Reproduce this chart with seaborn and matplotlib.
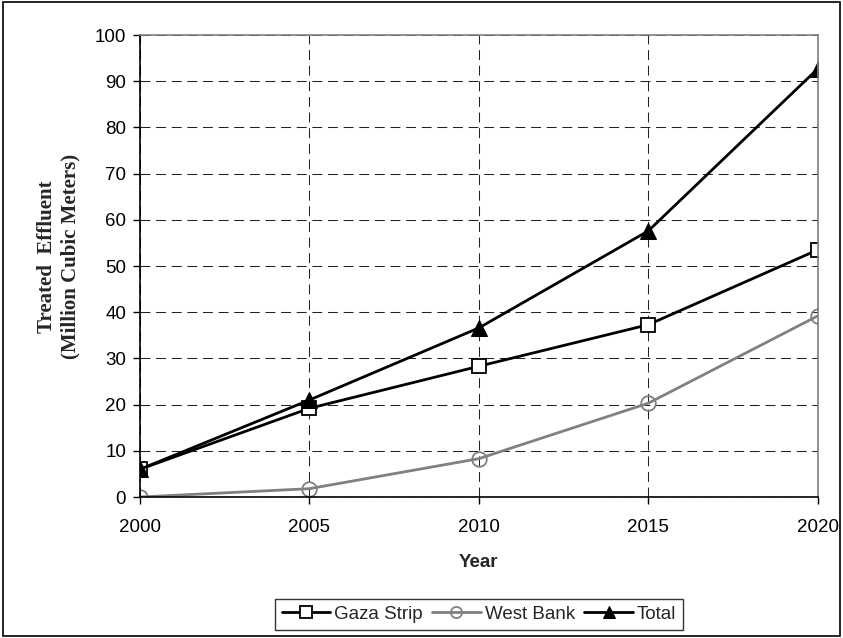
import numpy as np
import pandas as pd
import seaborn as sns
import matplotlib.pyplot as plt
from matplotlib.patches import Rectangle

years = [2000, 2005, 2010, 2015, 2020]
gaza_strip = [6.0, 19.2, 28.3, 37.3, 53.5]
west_bank = [0.0, 1.8, 8.3, 20.3, 39.2]
total = [6.0, 21.0, 36.6, 57.6, 92.7]

series_names = ["Gaza Strip", "West Bank", "Total"]


def main():
    sns.set_style("white")
    plt.rcParams['font.family'] = ['Liberation Sans', 'DejaVu Sans']

    df = pd.DataFrame({
        "Year": years * 3,
        "value": gaza_strip + west_bank + total,
        "series": np.repeat(series_names, len(years)),
    })

    fig = plt.figure(figsize=(8.43, 6.38), dpi=100)
    ax = fig.add_axes([0.166, 0.221, 0.804, 0.724])

    styles = {
        "Gaza Strip": dict(color="black", marker="s", markerfacecolor="white",
                           markeredgecolor="black", markersize=10, markeredgewidth=1.3),
        "West Bank": dict(color="#808080", marker="o", markerfacecolor="none",
                          markeredgecolor="#808080", markersize=10.5, markeredgewidth=1.3),
        "Total": dict(color="black", marker="^", markerfacecolor="black",
                      markeredgecolor="black", markersize=12),
    }
    for name in series_names:
        sub = df[df["series"] == name]
        sns.lineplot(data=sub, x="Year", y="value", ax=ax, label=name,
                     linewidth=2.0, **styles[name])

    ax.set_xlim(2000, 2020)
    ax.set_ylim(0, 100)
    ax.set_xticks(years)
    ax.set_yticks(range(0, 101, 10))
    ax.tick_params(axis="both", labelsize=13.5, length=5, width=1,
                   direction="out", colors="black")
    ax.tick_params(axis="y", left=True, pad=5)
    ax.tick_params(axis="x", bottom=True, pad=11)
    ax.grid(True, color="#222222", linestyle=(0, (9.5, 5.5)), linewidth=0.75)
    ax.set_axisbelow(True)

    for side in ["left", "bottom"]:
        ax.spines[side].set_color("black")
        ax.spines[side].set_linewidth(1.2)
    for side in ["top", "right"]:
        ax.spines[side].set_color("#808080")
        ax.spines[side].set_linewidth(1.2)

    ax.set_xlabel("Year", fontsize=13.5, fontweight="bold", labelpad=13)
    ax.set_ylabel("Treated  Effluent\n(Million Cubic Meters)",
                  fontsize=15, fontweight="bold", family="Liberation Serif",
                  linespacing=1.25)
    ax.yaxis.set_label_coords(-0.088, 0.52)

    leg = ax.legend(loc="center", bbox_to_anchor=(0.568, 0.037),
                    bbox_transform=fig.transFigure, ncol=3, fontsize=13.5,
                    frameon=True, fancybox=False, edgecolor="black",
                    handlelength=2.6, handletextpad=0.2, columnspacing=0.5,
                    borderpad=0.35, borderaxespad=0)
    leg.get_frame().set_linewidth(1.0)
    for h in leg.legend_handles:
        h.set_markersize(8)

    fig.patches.append(Rectangle((0.003, 0.003), 0.994, 0.994, transform=fig.transFigure,
                                 fill=False, edgecolor="black", linewidth=1.2))

    fig.savefig("out.png", dpi=100)


main()
